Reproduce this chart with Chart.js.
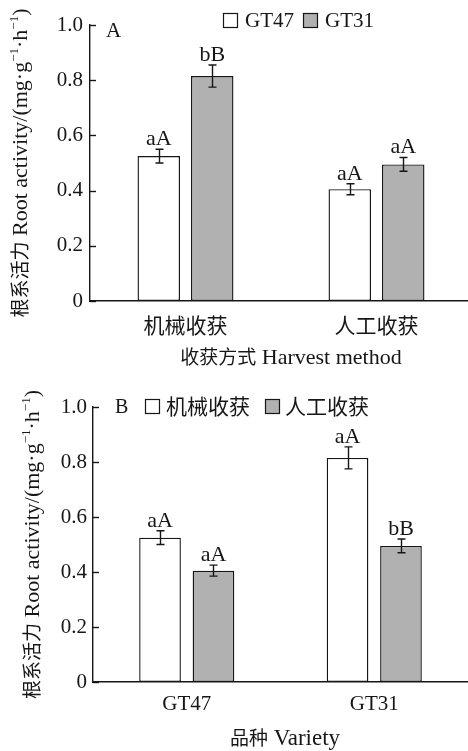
<!DOCTYPE html>
<html>
<head>
<meta charset="utf-8">
<script src="https://cdn.jsdelivr.net/npm/chart.js@4/dist/chart.umd.min.js"></script>
<style>
  html, body { margin: 0; padding: 0; background: #fff; width: 468px; height: 751px; overflow: hidden; }
  .panel { position: absolute; left: 0; }
  #wrapA { top: 0; }
  #wrapB { top: 376px; }
  canvas { display: block; }
</style>
</head>
<body>
<div class="panel" id="wrapA"><canvas id="chartA" width="472" height="376"></canvas></div>
<div class="panel" id="wrapB"><canvas id="chartB" width="468" height="375"></canvas></div>
<script>
// Root activity of sugarcane ratoon roots under two harvest methods.
const harvestMethods = ['机械收获', '人工收获'];
const varieties = ['GT47', 'GT31'];
const yTickValues = [0, 0.2, 0.4, 0.6, 0.8, 1.0];

// Panel A: grouped by harvest method (机械收获, 人工收获)
const gt47Activity = [0.525, 0.405];
const gt31Activity = [0.815, 0.495];
const gt47Error = [0.025, 0.02];
const gt31Error = [0.04, 0.025];
const gt47Letters = ['aA', 'aA'];
const gt31Letters = ['bB', 'aA'];

// Panel B: grouped by variety (GT47, GT31)
const mechanicalActivity = [0.525, 0.815];
const manualActivity = [0.405, 0.495];
const mechanicalError = [0.025, 0.04];
const manualError = [0.02, 0.025];
const mechanicalLetters = ['aA', 'aA'];
const manualLetters = ['aA', 'bB'];

const INK = '#161616';
const GREY = '#b1b1b1';
const SERIF = '"Liberation Serif", "Times New Roman", "Noto Sans CJK SC", serif';
const CJK = '"Noto Sans CJK SC", "Liberation Serif", sans-serif';

function drawRuns(ctx, runs, cx, cy, rotate) {
  ctx.save();
  ctx.translate(cx, cy);
  if (rotate) ctx.rotate(-Math.PI / 2);
  let total = 0;
  runs.forEach(r => { ctx.font = r.font; r.w = ctx.measureText(r.text).width; total += r.w; });
  let x = -total / 2;
  ctx.textAlign = 'left';
  ctx.textBaseline = 'alphabetic';
  ctx.fillStyle = INK;
  runs.forEach(r => {
    ctx.font = r.font;
    ctx.fillText(r.text, x, r.rise ? -r.rise : 0);
    x += r.w;
  });
  ctx.restore();
}

const yTitleRuns = () => [
  { text: '根系活力', font: '19px ' + CJK },
  { text: ' Root activity/(mg·g', font: '22px ' + SERIF },
  { text: '−1', font: '13px ' + SERIF, rise: 9 },
  { text: '·h', font: '22px ' + SERIF },
  { text: '−1', font: '13px ' + SERIF, rise: 9 },
  { text: ')', font: '22px ' + SERIF }
];

// Draws inward y ticks, error bars, significance letters, legend and axis titles.
const panelDecor = {
  id: 'panelDecor',
  afterDatasetsDraw(chart, args, o) {
    const ctx = chart.ctx;
    const area = chart.chartArea;
    const y = chart.scales.y;

    ctx.save();
    ctx.strokeStyle = INK;
    ctx.lineWidth = 1.4;
    yTickValues.forEach(v => {
      const py = Math.round(y.getPixelForValue(v)) + 0.5;
      ctx.beginPath();
      ctx.moveTo(area.left, py);
      ctx.lineTo(area.left + 6, py);
      ctx.stroke();
    });

    chart.data.datasets.forEach((ds, i) => {
      const meta = chart.getDatasetMeta(i);
      meta.data.forEach((bar, j) => {
        const v = ds.data[j], e = ds.errors[j];
        const top = y.getPixelForValue(v + e);
        const bot = y.getPixelForValue(v - e);
        const x = Math.round(bar.x) + 0.5;
        ctx.strokeStyle = INK;
        ctx.lineWidth = 1.4;
        ctx.beginPath();
        ctx.moveTo(x, top); ctx.lineTo(x, bot);
        ctx.moveTo(x - 4, top); ctx.lineTo(x + 4, top);
        ctx.moveTo(x - 4, bot); ctx.lineTo(x + 4, bot);
        ctx.stroke();
        ctx.fillStyle = INK;
        ctx.font = '22px ' + SERIF;
        ctx.textAlign = 'center';
        ctx.textBaseline = 'alphabetic';
        ctx.fillText(ds.letters[j], bar.x, top - 4);
      });
    });

    // panel letter
    ctx.fillStyle = INK;
    ctx.font = o.tagFont;
    ctx.textAlign = 'left';
    ctx.textBaseline = 'alphabetic';
    ctx.fillText(o.tag, o.tagX, o.tagY);

    // legend
    chart.data.datasets.forEach((ds, i) => {
      const L = o.legend[i];
      ctx.fillStyle = ds.backgroundColor;
      ctx.fillRect(L.x, o.legendBoxY, o.legendBox, o.legendBox);
      ctx.strokeStyle = INK;
      ctx.lineWidth = 1.2;
      ctx.strokeRect(L.x + 0.5, o.legendBoxY + 0.5, o.legendBox - 1, o.legendBox - 1);
      ctx.fillStyle = INK;
      ctx.font = o.legendFont;
      ctx.textAlign = 'left';
      ctx.fillText(ds.label, L.tx, o.legendTextY);
    });
    ctx.restore();

    drawRuns(ctx, yTitleRuns(), o.yTitleX, (area.top + area.bottom) / 2, true);
    drawRuns(ctx, o.xTitle, o.xTitleX, o.xTitleY, false);
  }
};

function makeChart(id, cfg) {
  return new Chart(document.getElementById(id), {
    type: 'bar',
    data: {
      labels: cfg.labels,
      datasets: cfg.series.map(s => ({
        label: s.label,
        data: s.values,
        errors: s.errors,
        letters: s.letters,
        backgroundColor: s.fill,
        borderColor: INK,
        borderWidth: 1.4,
        borderSkipped: false,
        categoryPercentage: cfg.catPct,
        barPercentage: cfg.barPct
      }))
    },
    options: {
      responsive: false,
      animation: false,
      devicePixelRatio: 1,
      layout: { padding: { top: cfg.areaTop, left: 0, right: 0, bottom: 0 } },
      plugins: {
        legend: { display: false },
        tooltip: { enabled: false },
        panelDecor: cfg.decor
      },
      scales: {
        x: {
          grid: { display: false, drawTicks: false },
          border: { display: true, color: INK, width: 1.4 },
          ticks: { font: { family: SERIF, size: 21 }, color: INK, padding: cfg.xTickPad },
          afterFit: s => { s.height = cfg.xAxisHeight; }
        },
        y: {
          min: 0, max: 1,
          afterBuildTicks: s => { s.ticks = yTickValues.map(v => ({ value: v })); },
          grid: { display: false, drawTicks: false },
          border: { display: true, color: INK, width: 1.4 },
          ticks: {
            font: { family: SERIF, size: 21 }, color: INK, padding: cfg.yTickPad,
            callback: v => (v === 0 ? '0' : v.toFixed(1))
          },
          afterFit: s => { s.width = cfg.yAxisWidth; }
        }
      }
    },
    plugins: [panelDecor]
  });
}

makeChart('chartA', {
  labels: harvestMethods,
  series: [
    { label: 'GT47', values: gt47Activity, errors: gt47Error, letters: gt47Letters, fill: '#ffffff' },
    { label: 'GT31', values: gt31Activity, errors: gt31Error, letters: gt31Letters, fill: GREY }
  ],
  catPct: 0.56, barPct: 0.794,
  areaTop: 25, xAxisHeight: 75, yAxisWidth: 90, xTickPad: 14, yTickPad: 7,
  decor: {
    tag: 'A', tagFont: '21px ' + SERIF, tagX: 106, tagY: 37,
    legend: [{ x: 223, tx: 245 }, { x: 303, tx: 325 }],
    legendBox: 15, legendBoxY: 13, legendTextY: 27, legendFont: '21px ' + SERIF,
    yTitleX: 27,
    xTitle: [
      { text: '收获方式', font: '19px ' + CJK },
      { text: ' Harvest method', font: '22px ' + SERIF }
    ],
    xTitleX: 291, xTitleY: 364
  }
});

makeChart('chartB', {
  labels: varieties,
  series: [
    { label: '机械收获', values: mechanicalActivity, errors: mechanicalError, letters: mechanicalLetters, fill: '#ffffff' },
    { label: '人工收获', values: manualActivity, errors: manualError, letters: manualLetters, fill: GREY }
  ],
  catPct: 0.57, barPct: 0.78,
  areaTop: 31, xAxisHeight: 69, yAxisWidth: 93, xTickPad: 10, yTickPad: 6,
  decor: {
    tag: 'B', tagFont: '20px ' + SERIF, tagX: 115, tagY: 37,
    legend: [{ x: 145, tx: 166 }, { x: 265, tx: 285 }],
    legendBox: 15, legendBoxY: 23, legendTextY: 38, legendFont: '21px ' + CJK,
    yTitleX: 39,
    xTitle: [
      { text: '品种', font: '19px ' + CJK },
      { text: ' Variety', font: '23px ' + SERIF }
    ],
    xTitleX: 285, xTitleY: 369
  }
});
</script>
</body>
</html>
